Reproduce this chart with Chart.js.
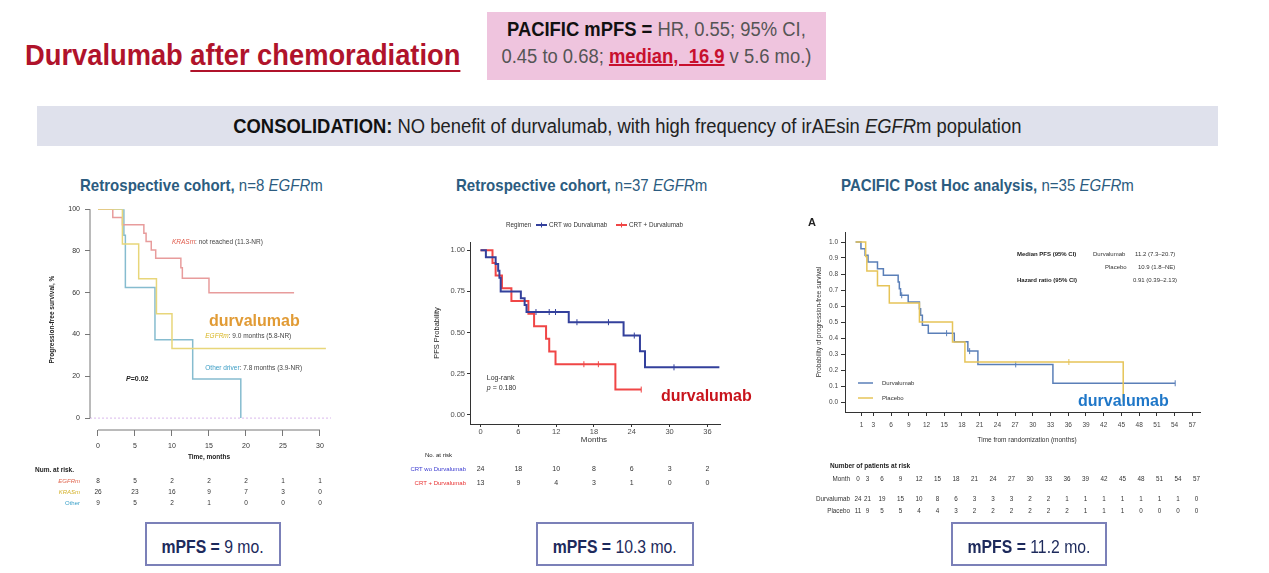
<!DOCTYPE html>
<html>
<head>
<meta charset="utf-8">
<title>Durvalumab after chemoradiation</title>
<script src="https://cdn.jsdelivr.net/npm/chart.js@4.4.1/dist/chart.umd.min.js"></script>
<style>
  body { margin:0; width:1269px; height:573px; position:relative; overflow:hidden; background:#fff;
         font-family:"Liberation Sans",Arial,sans-serif; }
  .abs { position:absolute; white-space:nowrap; }
  .nar { display:inline-block; transform-origin:0 50%; }
  #title { left:25px; top:40px; font-size:30px; line-height:30px; font-weight:bold; color:#b0132b; }
  #title .nar { transform:scaleX(0.91); }
  #title u { text-decoration-thickness:2px; text-underline-offset:5px; }
  #pacific { left:487px; top:12px; width:339px; height:68px; background:#efc4de; text-align:center;
             font-size:20px; line-height:27px; color:#555; padding-top:4px; box-sizing:border-box; }
  #pacific div { width:339px; text-align:center; white-space:nowrap; }
  #pacific .nar { transform:scaleX(0.92); transform-origin:50% 50%; }
  #pacific b { color:#111; }
  #pacific .med { color:#c8102e; font-weight:bold; text-decoration:underline; text-decoration-thickness:2px; }
  #consol { left:37px; top:106px; width:1181px; height:40px; background:#dfe1ec; text-align:center;
            font-size:20px; line-height:40px; color:#222; }
  #consol .nar { transform:scaleX(0.92); transform-origin:50% 50%; }
  .sub { top:176px; font-size:17px; line-height:20px; color:#2c5c80; }
  .sub .nar { transform:scaleX(0.885); }
  .box { top:522px; height:44px; border:2px solid #7b80b8; box-sizing:border-box; text-align:center;
         font-size:19px; line-height:40px; padding-top:3px; color:#1d2a5c; }
  .box .nar { transform:scaleX(0.83); transform-origin:50% 50%; }
  .wrap { position:absolute; }
</style>
</head>
<body>
<div id="title" class="abs"><span class="nar">Durvalumab <u>after chemoradiation</u></span></div>
<div id="pacific" class="abs">
  <div><span class="nar"><b>PACIFIC mPFS =</b> HR, 0.55; 95% CI,</span></div>
  <div><span class="nar">0.45 to 0.68; <span class="med">median,&nbsp; 16.9</span> v 5.6 mo.)</span></div>
</div>
<div id="consol" class="abs"><span class="nar"><b style="color:#111">CONSOLIDATION:</b> NO benefit of durvalumab, with high frequency of irAEsin <i>EGFR</i>m population</span></div>

<div class="abs sub" style="left:80px"><span class="nar"><b>Retrospective cohort,</b> n=8 <i>EGFR</i>m</span></div>
<div class="abs sub" style="left:456px"><span class="nar"><b>Retrospective cohort,</b> n=37 <i>EGFR</i>m</span></div>
<div class="abs sub" style="left:841px"><span class="nar"><b>PACIFIC Post Hoc analysis,</b> n=35 <i>EGFR</i>m</span></div>

<div class="wrap" style="left:30px;top:200px"><canvas id="km1" width="320" height="315"></canvas></div>
<div class="wrap" style="left:400px;top:205px"><canvas id="km2" width="360" height="290"></canvas></div>
<div class="wrap" style="left:800px;top:200px"><canvas id="km3" width="415" height="325"></canvas></div>

<div class="abs box" style="left:145px;width:136px"><span class="nar"><b>mPFS =</b> 9 mo.</span></div>
<div class="abs box" style="left:536px;width:158px"><span class="nar"><b>mPFS =</b> 10.3 mo.</span></div>
<div class="abs box" style="left:951px;width:156px"><span class="nar"><b>mPFS =</b> 11.2 mo.</span></div>

<script>
// ---- chart 1: retrospective cohort, n=8 EGFRm ----
const c1Ticks = [0, 5, 10, 15, 20, 25, 30];
const c1YTicks = [0, 20, 40, 60, 80, 100];
const krasT = [0, 2.0, 3.3, 6.2, 6.5, 7.2, 7.8, 11.2, 11.4, 15.0, 26.5];
const krasS = [100, 96, 92.5, 88.5, 84.5, 80.5, 76.5, 72, 67, 60, 60];
const egfrT = [0, 3.3, 5.5, 7.9, 10.0, 30.8];
const egfrS = [100, 83.3, 66.7, 50, 33.3, 33.3];
const otherT = [0, 3.5, 3.7, 7.7, 12.8, 19.3];
const otherS = [100, 87.5, 62.5, 37.5, 18.75, 0];
const c1RiskLabels = ['EGFRm', 'KRASm', 'Other'];
const c1Risk = [
  [8, 5, 2, 2, 2, 1, 1],
  [26, 23, 16, 9, 7, 3, 0],
  [9, 5, 2, 1, 0, 0, 0]
];

// ---- chart 2: retrospective cohort, n=37 EGFRm ----
const c2Ticks = [0, 6, 12, 18, 24, 30, 36];
const c2YTicks = [0, 0.25, 0.5, 0.75, 1];
const woT = [0, 0.85, 2.4, 2.8, 3.0, 3.2, 6.4, 7.0, 7.3, 14.0, 22.7, 25.3, 26.1, 37.9];
const woS = [1, 0.958, 0.917, 0.875, 0.833, 0.75, 0.708, 0.667, 0.625, 0.563, 0.482, 0.386, 0.289, 0.289];
const woCens = [8.8, 10.9, 11.9, 15.3, 20.3, 24.4, 30.7];
const plusT = [0, 1.9, 2.4, 3.4, 4.9, 7.6, 8.5, 10.4, 10.9, 11.9, 21.4, 25.5];
const plusS = [1, 0.923, 0.846, 0.769, 0.692, 0.615, 0.538, 0.462, 0.385, 0.308, 0.154, 0.154];
const plusCens = [16.4, 18.7, 25.5];
const c2RiskLabels = ['CRT wo Durvalumab', 'CRT + Durvalumab'];
const c2Risk = [
  [24, 18, 10, 8, 6, 3, 2],
  [13, 9, 4, 3, 1, 0, 0]
];

// ---- chart 3: PACIFIC post hoc, n=35 EGFRm ----
const c3Ticks = [1, 3, 6, 9, 12, 15, 18, 21, 24, 27, 30, 33, 36, 39, 42, 45, 48, 51, 54, 57];
const c3YTicks = [0, 0.1, 0.2, 0.3, 0.4, 0.5, 0.6, 0.7, 0.8, 0.9, 1.0];
const durT = [0, 0.9, 1.6, 2.1, 3.7, 4.7, 7.2, 7.4, 7.6, 8.9, 10.8, 11.0, 11.3, 12.3, 16.7, 19.0, 20.7, 33.4, 54.1];
const durS = [1, 0.958, 0.917, 0.875, 0.833, 0.792, 0.75, 0.708, 0.667, 0.625, 0.583, 0.542, 0.48, 0.43, 0.376, 0.318, 0.235, 0.117, 0.117];
const durCens = [7.8, 15.4, 19.3, 27.1, 54.1];
const plaT = [0, 1.7, 1.9, 3.7, 5.7, 10.8, 16.4, 18.5, 45.3];
const plaS = [1, 0.909, 0.818, 0.727, 0.618, 0.5, 0.375, 0.25, 0];
const plaCens = [36.1];
const c3RiskMonths = [0, 3, 6, 9, 12, 15, 18, 21, 24, 27, 30, 33, 36, 39, 42, 45, 48, 51, 54, 57];
const c3RiskLabels = ['Durvalumab', 'Placebo'];
const c3Risk = [
  [24, 21, 19, 15, 10, 8, 6, 3, 3, 3, 2, 2, 1, 1, 1, 1, 1, 1, 1, 0],
  [11, 9, 5, 5, 4, 4, 3, 2, 2, 2, 2, 2, 2, 1, 1, 1, 0, 0, 0, 0]
];

const SANS = "'Liberation Sans', Arial, sans-serif";
Chart.defaults.font.family = SANS;
const f = (size, style) => (style ? style + ' ' : '') + size + 'px ' + SANS;

function survAt(t, s, x) {
  let v = s[0];
  for (let i = 0; i < t.length; i++) if (t[i] <= x) v = s[i];
  return v;
}
function kmLine(label, t, s, color, w) {
  return { label, data: t.map((x, i) => ({ x, y: s[i] })), borderColor: color, borderWidth: w,
           stepped: 'before', pointRadius: 0, fill: false };
}
function kmCens(label, ct, t, s, color, w, r) {
  return { label, data: ct.map(x => ({ x, y: survAt(t, s, x) })), showLine: false,
           pointStyle: 'line', pointRotation: 90, pointRadius: r, borderColor: color, borderWidth: w };
}
function txt(ctx, s, x, y, font, color, align) {
  ctx.save();
  ctx.font = font; ctx.fillStyle = color || '#333';
  ctx.textAlign = align || 'left'; ctx.textBaseline = 'middle';
  ctx.fillText(s, x, y);
  ctx.restore();
}
// several runs of text with their own font/colour, one after another
function runs(ctx, parts, x, y) {
  ctx.save();
  ctx.textBaseline = 'middle'; ctx.textAlign = 'left';
  for (const [s, font, color] of parts) {
    ctx.font = font; ctx.fillStyle = color;
    ctx.fillText(s, x, y);
    x += ctx.measureText(s).width;
  }
  ctx.restore();
}
function seg(ctx, x1, y1, x2, y2, color, w, dash) {
  ctx.save();
  ctx.strokeStyle = color; ctx.lineWidth = w || 1;
  if (dash) ctx.setLineDash(dash);
  ctx.beginPath(); ctx.moveTo(x1, y1); ctx.lineTo(x2, y2); ctx.stroke();
  ctx.restore();
}
const fixTicks = vals => s => { s.ticks = vals.map(v => ({ value: v })); };

// ---------------- chart 1 ----------------
new Chart(document.getElementById('km1'), {
  type: 'line',
  data: { datasets: [
    kmLine('EGFRm', egfrT, egfrS, '#e8d67a', 1.5),
    kmLine('KRASm', krasT, krasS, '#e89c9c', 1.5),
    kmLine('Other driver', otherT, otherS, '#86bccf', 1.5)
  ] },
  options: {
    responsive: false, animation: false,
    layout: { padding: { top: 8, right: 23, left: 0, bottom: 0 } },
    plugins: { legend: { display: false }, tooltip: { enabled: false } },
    scales: {
      x: { type: 'linear', min: -1.08, max: 30.95, afterBuildTicks: fixTicks(c1Ticks),
           border: { display: false },
           grid: { drawOnChartArea: false, tickLength: 6, color: '#777' },
           ticks: { font: { size: 7 }, color: '#333', padding: 6, maxRotation: 0, autoSkip: false },
           afterFit: s => { s.height = 85; } },
      y: { min: -5.7, max: 100, afterBuildTicks: fixTicks(c1YTicks),
           border: { display: false },
           grid: { drawOnChartArea: false, tickLength: 5, color: '#777' },
           ticks: { font: { size: 7 }, color: '#333', padding: 5 },
           title: { display: true, text: 'Progression-free survival, %', font: { size: 6.5, weight: 'bold' }, color: '#222', padding: { top: 18, bottom: 0 } },
           afterFit: s => { s.width = 60; } }
    }
  },
  plugins: [{
    id: 'km1Extras',
    beforeDatasetsDraw(chart) {
      const sx = chart.scales.x, sy = chart.scales.y, a = chart.chartArea, ctx = chart.ctx;
      seg(ctx, a.left, sy.getPixelForValue(0), a.right + 4, sy.getPixelForValue(0), '#d9b8ec', 1, [2, 2]);
      seg(ctx, a.left, sy.getPixelForValue(0), a.left, sy.getPixelForValue(100), '#777', 1);
      seg(ctx, sx.getPixelForValue(0), a.bottom, sx.getPixelForValue(30), a.bottom, '#777', 1);
    },
    afterDraw(chart) {
      const sx = chart.scales.x, sy = chart.scales.y, a = chart.chartArea, ctx = chart.ctx;
      const X = v => sx.getPixelForValue(v), Y = v => sy.getPixelForValue(v);
      runs(ctx, [['KRASm', f(6.5, 'italic'), '#e05a4a'], [': not reached (11.3-NR)', f(6.5), '#444']], X(10.0), Y(84.3));
      txt(ctx, 'durvalumab', X(15.0), Y(46.3), f(16, 'bold'), '#e19b35');
      runs(ctx, [['EGFRm', f(6.5, 'italic'), '#d8b520'], [': 9.0 months (5.8-NR)', f(6.5), '#444']], X(14.5), Y(39));
      runs(ctx, [['Other driver', f(6.5), '#3a9cc4'], [': 7.8 months (3.9-NR)', f(6.5), '#444']], X(14.5), Y(23.8));
      runs(ctx, [['P', f(7, 'italic bold'), '#222'], ['=0.02', f(7, 'bold'), '#222']], X(3.8), Y(18.6));
      // risk table
      txt(ctx, 'Time, months', X(15), a.bottom + 27, f(6.5, 'bold'), '#222', 'center');
      txt(ctx, 'Num. at risk.', 5, a.bottom + 40, f(6.5, 'bold'), '#222');
      const cols = ['#e0664f', '#d4b12a', '#3aa0c8'];
      c1Risk.forEach((row, r) => {
        const y = a.bottom + 51 + r * 11;
        txt(ctx, c1RiskLabels[r], 50, y, f(6, r === 2 ? '' : 'italic'), cols[r], 'right');
        row.forEach((v, i) => txt(ctx, String(v), X(c1Ticks[i]), y, f(6.5), '#333', 'center'));
      });
    }
  }]
});

// ---------------- chart 2 ----------------
new Chart(document.getElementById('km2'), {
  type: 'line',
  data: { datasets: [
    kmLine('CRT wo Durvalumab', woT, woS, '#33409c', 2),
    kmLine('CRT + Durvalumab', plusT, plusS, '#f04646', 2),
    kmCens('cens wo', woCens, woT, woS, '#33409c', 1, 3),
    kmCens('cens plus', plusCens, plusT, plusS, '#f04646', 1, 3)
  ] },
  options: {
    responsive: false, animation: false,
    layout: { padding: { top: 37, right: 40, left: 0, bottom: 0 } },
    plugins: { legend: { display: false }, tooltip: { enabled: false } },
    scales: {
      x: { type: 'linear', min: -1.67, max: 38, afterBuildTicks: fixTicks(c2Ticks),
           border: { display: true, color: '#333', width: 1 },
           grid: { drawOnChartArea: false, tickLength: 3, color: '#333' },
           ticks: { font: { size: 7.5 }, color: '#4d4d4d', padding: 0, maxRotation: 0, autoSkip: false },
           afterFit: s => { s.height = 71; } },
      y: { min: -0.055, max: 1.05, afterBuildTicks: fixTicks(c2YTicks),
           border: { display: true, color: '#333', width: 1 },
           grid: { drawOnChartArea: false, tickLength: 3, color: '#333' },
           ticks: { font: { size: 7.5 }, color: '#4d4d4d', padding: 2, callback: v => v.toFixed(2) },
           title: { display: true, text: 'PFS Probability', font: { size: 7.5 }, color: '#222', padding: { top: 32, bottom: 0 } },
           afterFit: s => { s.width = 70; } }
    }
  },
  plugins: [{
    id: 'km2Extras',
    afterDraw(chart) {
      const sx = chart.scales.x, sy = chart.scales.y, a = chart.chartArea, ctx = chart.ctx;
      const X = v => sx.getPixelForValue(v), Y = v => sy.getPixelForValue(v);
      // legend
      txt(ctx, 'Regimen', 106, 20, f(6.3), '#333');
      seg(ctx, 136, 20, 147, 20, '#33409c', 2); seg(ctx, 141.5, 17.5, 141.5, 22.5, '#33409c', 1);
      txt(ctx, 'CRT wo Durvalumab', 149, 20, f(6.3), '#333');
      seg(ctx, 216, 20, 227, 20, '#f04646', 2); seg(ctx, 221.5, 17.5, 221.5, 22.5, '#f04646', 1);
      txt(ctx, 'CRT + Durvalumab', 229, 20, f(6.3), '#333');
      txt(ctx, 'Log-rank', X(1.0), Y(0.225), f(7), '#333');
      runs(ctx, [['p', f(7, 'italic'), '#333'], [' = 0.180', f(7), '#333']], X(1.0), Y(0.164));
      txt(ctx, 'durvalumab', X(28.65), Y(0.11), f(16, 'bold'), '#c8141c');
      // risk table
      txt(ctx, 'Months', X(18), a.bottom + 16, f(8), '#333', 'center');
      txt(ctx, 'No. at risk', 25, a.bottom + 31, f(6), '#222');
      const cols = ['#3a3ad0', '#e83030'];
      c2Risk.forEach((row, r) => {
        const y = a.bottom + 45 + r * 14;
        txt(ctx, c2RiskLabels[r], 66, y, f(6), cols[r], 'right');
        row.forEach((v, i) => txt(ctx, String(v), X(c2Ticks[i]), y, f(7), '#333', 'center'));
      });
    }
  }]
});

// ---------------- chart 3 ----------------
new Chart(document.getElementById('km3'), {
  type: 'line',
  data: { datasets: [
    kmLine('Placebo', plaT, plaS, '#e6c458', 1.5),
    kmLine('Durvalumab', durT, durS, '#5a7fb8', 1.5),
    kmCens('cens pla', plaCens, plaT, plaS, '#e6c458', 1, 3),
    kmCens('cens dur', durCens, durT, durS, '#5a7fb8', 1, 3)
  ] },
  options: {
    responsive: false, animation: false,
    layout: { padding: { top: 32, right: 15, left: 0, bottom: 0 } },
    plugins: { legend: { display: false }, tooltip: { enabled: false } },
    scales: {
      x: { type: 'linear', min: -1.8, max: 58.3, afterBuildTicks: fixTicks(c3Ticks),
           border: { display: true, color: '#333', width: 1 },
           grid: { drawOnChartArea: false, tickLength: 4, color: '#333' },
           ticks: { font: { size: 6.5 }, color: '#444', padding: 5, maxRotation: 0, autoSkip: false },
           afterFit: s => { s.height = 113; } },
      y: { min: -0.0625, max: 1.0625, afterBuildTicks: fixTicks(c3YTicks),
           border: { display: true, color: '#333', width: 1 },
           grid: { drawOnChartArea: false, tickLength: 4, color: '#333' },
           ticks: { font: { size: 6.5 }, color: '#444', padding: 3, callback: v => v.toFixed(1) },
           title: { display: true, text: 'Probability of progression-free survival', font: { size: 6.5 }, color: '#333', padding: { top: 15, bottom: 0 } },
           afterFit: s => { s.width = 45; } }
    }
  },
  plugins: [{
    id: 'km3Extras',
    afterDraw(chart) {
      const sx = chart.scales.x, a = chart.chartArea, ctx = chart.ctx;
      txt(ctx, 'A', 8, 23, f(11, 'bold'), '#222');
      txt(ctx, 'Median PFS (95% CI)', 217, 54, f(6, 'bold'), '#222');
      txt(ctx, 'Durvalumab', 293, 54, f(6), '#333');
      txt(ctx, '11.2 (7.3\u201320.7)', 335, 54, f(6), '#333');
      txt(ctx, 'Placebo', 305, 67, f(6), '#333');
      txt(ctx, '10.9 (1.8\u2013NE)', 338, 67, f(6), '#333');
      txt(ctx, 'Hazard ratio (95% CI)', 217, 80, f(6, 'bold'), '#222');
      txt(ctx, '0.91 (0.39\u20132.13)', 333, 80, f(6), '#333');
      // legend
      seg(ctx, 58, 183, 73, 183, '#5a7fb8', 1.5);
      txt(ctx, 'Durvalumab', 82, 183, f(6), '#333');
      seg(ctx, 58, 198, 73, 198, '#e6c458', 1.5);
      txt(ctx, 'Placebo', 82, 198, f(6), '#333');
      txt(ctx, 'durvalumab', 278, 202, f(16, 'bold'), '#1f77c8');
      // axis title + risk table
      txt(ctx, 'Time from randomization (months)', 227, a.bottom + 28, f(6.5), '#333', 'center');
      txt(ctx, 'Number of patients at risk', 30, a.bottom + 54, f(6.5, 'bold'), '#222');
      txt(ctx, 'Month', 50, a.bottom + 67, f(6.3), '#333', 'right');
      const colX = m => m === 0 ? 58 : (m === 3 ? 67.5 : 82 + (m - 6) * 18.5 / 3);
      c3RiskMonths.forEach(m => txt(ctx, String(m), colX(m), a.bottom + 67, f(6.3), '#333', 'center'));
      c3Risk.forEach((row, r) => {
        const y = a.bottom + 87 + r * 12;
        txt(ctx, c3RiskLabels[r], 50, y, f(6.3), '#333', 'right');
        row.forEach((v, i) => txt(ctx, String(v), colX(c3RiskMonths[i]), y, f(6.3), '#333', 'center'));
      });
    }
  }]
});
</script>
</body>
</html>
